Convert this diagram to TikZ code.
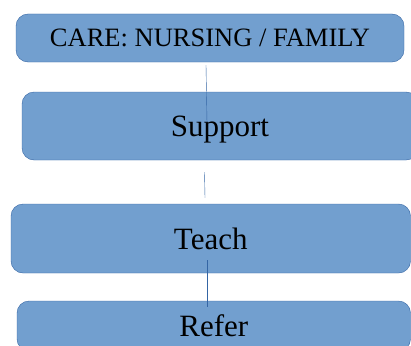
\documentclass[tikz,border=0pt]{standalone}
\usepackage{fontspec}
\setmainfont{Liberation Serif}
\usepackage{tikz}

\definecolor{boxfill}{HTML}{729FCF}
\definecolor{boxline}{HTML}{3465A4}

\begin{document}
\begin{tikzpicture}
    [
        x=1pt, y=-1pt,
        careitem/.style={rectangle, rounded corners=12pt, draw=boxline, fill=boxfill, thin,
            inner sep=0pt, text height=21pt, text depth=0pt, font=\fontsize{31}{36}\selectfont},
        link/.style={draw=boxline, thin},
    ]
    \clip (0,0) rectangle (411,345);

    \node[careitem, minimum width=388pt, minimum height=48pt, text height=17.5pt, font=\fontsize{26.5}{30}\selectfont]
        (care) at (210,38) {CARE: NURSING / FAMILY};
    \node[careitem, minimum width=396pt, minimum height=68pt] (support) at (220,126) {Support};
    \node[careitem, minimum width=399.5pt, minimum height=69pt] (teach) at (210.75,238.5) {Teach};
    \node[careitem, minimum width=393.5pt, minimum height=50pt] (refer) at (213.75,326) {Refer};

    % thin connectors between the levels
    \draw[link] ([xshift=-4pt,yshift=-3pt]care.south) -- ([xshift=-13pt,yshift=3pt]support.center);
    \draw[link] ([xshift=-15.5pt,yshift=-12pt]support.south) -- ([xshift=-5.75pt,yshift=6pt]teach.north);
    \draw[link] ([xshift=-4pt,yshift=-21.5pt]teach.center) -- ([xshift=-7pt,yshift=-6pt]refer.north);
\end{tikzpicture}
\end{document}
